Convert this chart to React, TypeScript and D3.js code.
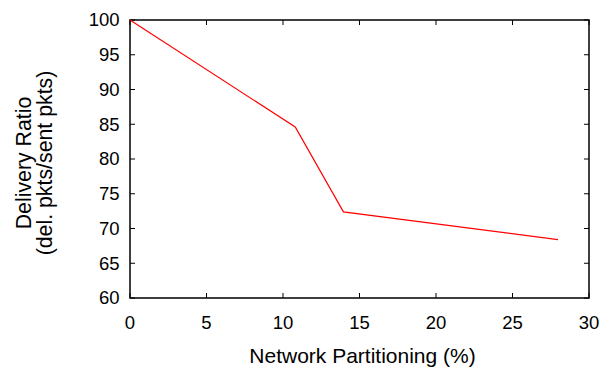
import React from "react";
import * as d3 from "d3";

const xValues = [0, 10.8, 13.95, 27.97];
const yValues = [100, 84.6, 72.4, 68.4];
const xTicks = [0, 5, 10, 15, 20, 25, 30];
const yTicks = [60, 65, 70, 75, 80, 85, 90, 95, 100];
const xLabel = "Network Partitioning (%)";
const yLabel1 = "Delivery Ratio";
const yLabel2 = "(del. pkts/sent pkts)";

const W = 612;
const H = 368;
const m = { left: 130, right: 589, top: 20, bottom: 298 };
const font = "'Liberation Sans', Arial, Helvetica, sans-serif";

export default function App() {
  const x = d3.scaleLinear().domain([0, 30]).range([m.left, m.right]);
  const y = d3.scaleLinear().domain([60, 100]).range([m.bottom, m.top]);
  const pts: [number, number][] = xValues.map((v, i) => [v, yValues[i]]);
  const line = d3
    .line<[number, number]>()
    .x((d) => x(d[0]))
    .y((d) => y(d[1]));
  const tl = 5;
  return (
    <svg
      width={W}
      height={H}
      style={{ position: "absolute", left: 0, top: 0, background: "#fff" }}
      fontFamily={font}
    >
      <rect x={0} y={0} width={W} height={H} fill="#fff" />
      {xTicks.map((t) => (
        <g key={"x" + t}>
          <line x1={x(t)} x2={x(t)} y1={m.bottom} y2={m.bottom - tl} stroke="#000" strokeWidth={1} />
          <line x1={x(t)} x2={x(t)} y1={m.top} y2={m.top + tl} stroke="#000" strokeWidth={1} />
          <text x={x(t)} y={328.5} textAnchor="middle" fontSize={18.5} fill="#000">
            {t}
          </text>
        </g>
      ))}
      {yTicks.map((t) => (
        <g key={"y" + t}>
          <line x1={m.left} x2={m.left + tl} y1={y(t)} y2={y(t)} stroke="#000" strokeWidth={1} />
          <line x1={m.right} x2={m.right - tl} y1={y(t)} y2={y(t)} stroke="#000" strokeWidth={1} />
          <text x={119.5} y={y(t) + 6.3} textAnchor="end" fontSize={18.5} fill="#000">
            {t}
          </text>
        </g>
      ))}
      <rect
        x={m.left}
        y={m.top}
        width={m.right - m.left}
        height={m.bottom - m.top}
        fill="none"
        stroke="#000"
        strokeWidth={1.5}
      />
      <path d={line(pts) || ""} fill="none" stroke="#ff0000" strokeWidth={1.2} />
      <text x={(m.left + m.right) / 2 + 3} y={363} textAnchor="middle" fontSize={21} fill="#000">
        {xLabel}
      </text>
      <g transform={`translate(30.5, ${(m.top + m.bottom) / 2 + 4}) rotate(-90)`}>
        <text x={0} y={0} textAnchor="middle" fontSize={21.3} fill="#000">
          {yLabel1}
        </text>
        <text x={0} y={21.5} textAnchor="middle" fontSize={21.3} fill="#000">
          {yLabel2}
        </text>
      </g>
    </svg>
  );
}
